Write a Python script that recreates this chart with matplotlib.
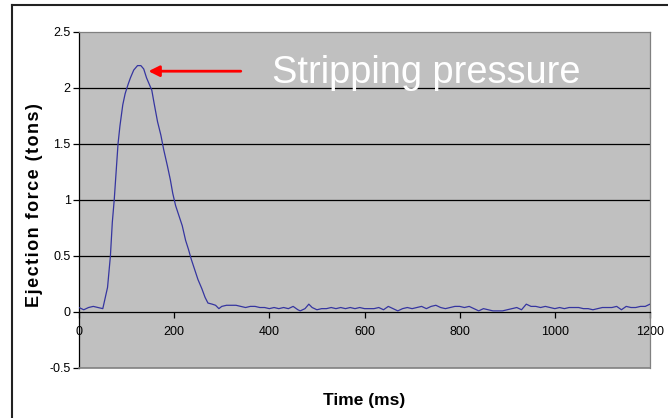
import matplotlib
matplotlib.use("Agg")
import matplotlib.pyplot as plt
from matplotlib.lines import Line2D

# Ejection force trace
time_ms = [0, 10, 20, 30, 40, 50, 60, 66, 70, 74, 78, 82, 86, 92, 97, 103, 108, 115, 123, 130,
           136, 142, 148, 153, 158, 165, 172, 178, 186, 192, 197, 203, 210, 217, 224, 230, 236,
           243, 250, 258, 265, 271, 280, 287, 294, 300, 310, 320, 330, 340, 350, 360, 370, 380,
           390, 400, 410, 420, 430, 440, 450, 460, 465, 475, 483, 490, 500, 510, 520, 530, 540,
           550, 560, 570, 580, 590, 600, 610, 620, 630, 640, 650, 660, 670, 680, 690, 700, 710,
           720, 730, 740, 750, 760, 770, 780, 790, 800, 810, 820, 830, 840, 850, 860, 870, 880,
           890, 900, 910, 920, 930, 940, 950, 960, 970, 980, 990, 1000, 1010, 1020, 1030, 1040,
           1050, 1060, 1070, 1080, 1090, 1100, 1110, 1120, 1130, 1140, 1150, 1160, 1170, 1180,
           1190, 1200]
force_tons = [0.04, 0.02, 0.04, 0.05, 0.04, 0.03, 0.22, 0.50, 0.80, 1.00, 1.25, 1.50, 1.66, 1.85,
              1.95, 2.03, 2.09, 2.16, 2.20, 2.20, 2.17, 2.09, 2.03, 1.98, 1.86, 1.70, 1.58, 1.45,
              1.30, 1.18, 1.06, 0.95, 0.86, 0.77, 0.64, 0.56, 0.47, 0.38, 0.29, 0.21, 0.13, 0.08,
              0.07, 0.06, 0.03, 0.05, 0.06, 0.06, 0.06, 0.05, 0.04, 0.05, 0.05, 0.04, 0.04, 0.03,
              0.04, 0.03, 0.04, 0.03, 0.05, 0.02, 0.01, 0.03, 0.07, 0.04, 0.02, 0.03, 0.03, 0.04,
              0.03, 0.04, 0.03, 0.04, 0.03, 0.04, 0.03, 0.03, 0.03, 0.04, 0.02, 0.05, 0.03, 0.01,
              0.03, 0.04, 0.03, 0.04, 0.05, 0.03, 0.05, 0.06, 0.04, 0.03, 0.04, 0.05, 0.05, 0.04,
              0.05, 0.03, 0.01, 0.03, 0.02, 0.01, 0.01, 0.01, 0.02, 0.03, 0.04, 0.02, 0.07, 0.05,
              0.05, 0.04, 0.05, 0.04, 0.03, 0.04, 0.03, 0.04, 0.04, 0.04, 0.03, 0.03, 0.02, 0.03,
              0.04, 0.04, 0.04, 0.05, 0.02, 0.05, 0.04, 0.04, 0.05, 0.05, 0.07]

x_ticks = [0, 200, 400, 600, 800, 1000, 1200]
y_ticks = [-0.5, 0, 0.5, 1, 1.5, 2, 2.5]
y_tick_labels = ['-0.5', '0', '0.5', '1', '1.5', '2', '2.5']

annot_text = 'Stripping pressure'
annot_tip = (146, 2.15)
annot_tail = (340, 2.15)
annot_text_pos = (406, 2.045)

plt.rcParams['font.family'] = ['Liberation Sans', 'DejaVu Sans']

fig = plt.figure(figsize=(6.68, 4.18), dpi=100)
ax = fig.add_axes([79/668, 1 - 368/418, (650 - 79)/668, (368 - 32)/418])
ax.set_facecolor('#c0c0c0')

for y in y_ticks:
    if 0 < y < 2.5:
        ax.axhline(y, color='black', lw=0.9, zorder=1)

ax.plot(time_ms, force_tons, color='#3535a0', lw=0.9, zorder=3)

ax.set_xlim(0, 1200)
ax.set_ylim(-0.5, 2.5)
ax.set_xticks(x_ticks)
ax.set_yticks(y_ticks)
ax.set_yticklabels(y_tick_labels)

ax.spines['bottom'].set_position(('data', 0))
ax.spines['bottom'].set_color('black')
ax.spines['bottom'].set_linewidth(0.9)
ax.spines['left'].set_color('black')
ax.spines['left'].set_linewidth(0.9)
for s in ['top', 'right']:
    ax.spines[s].set_color('#808080')
    ax.spines[s].set_linewidth(0.9)
# gray frame line along the bottom of the plot area
ax.axhline(-0.5, color='#808080', lw=1.2, zorder=4, clip_on=False)

ax.tick_params(axis='both', direction='out', length=4, width=0.9, labelsize=9, colors='black')
ax.tick_params(axis='x', pad=6)
ax.tick_params(axis='y', pad=2)

# Excel-style wide letter spacing on the y title
ylab = '\u200a'.join('Ejection force (tons)')
fig.text(35/668, 1 - 205/418, ylab, rotation=90, ha='center', va='center',
         fontsize=13, fontweight='bold')
fig.text(364.5/668, 1 - 400/418, 'Time (ms)', ha='center', va='center',
         fontsize=12.5, fontweight='bold')

ax.annotate('', xy=annot_tip, xytext=annot_tail,
            arrowprops=dict(arrowstyle='-|>', color='red', lw=2, mutation_scale=16,
                            shrinkA=0, shrinkB=0))
ax.text(annot_text_pos[0], annot_text_pos[1], annot_text, color='white',
        fontsize=27.4, va='baseline', ha='left')

# outer frame of the chart object
fig.add_artist(Line2D([12/668, 12/668], [0, 1 - 5/418], color='#222222', lw=1.5))
fig.add_artist(Line2D([12/668, 667/668], [1 - 5/418, 1 - 5/418], color='#222222', lw=1.5))

fig.savefig('out.png', dpi=100)
